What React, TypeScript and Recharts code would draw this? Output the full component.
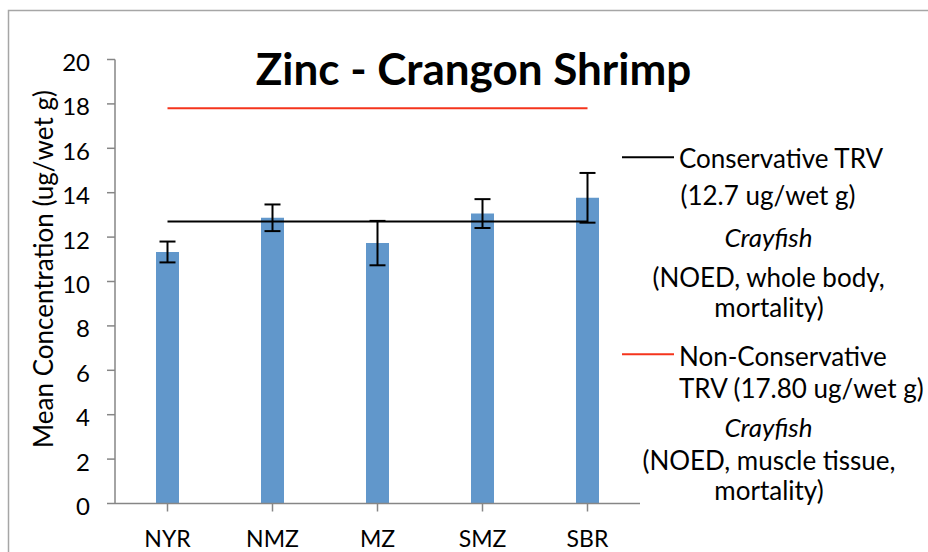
import { Bar, ComposedChart, ErrorBar, Line, XAxis, YAxis } from 'recharts'

const sites = ['NYR', 'NMZ', 'MZ', 'SMZ', 'SBR']
const meanZinc = [11.33, 12.87, 11.73, 13.06, 13.77]
const zincError = [0.47, 0.6, 1.0, 0.65, 1.12]
const conservativeTrv = [12.7, 12.7, 12.7, 12.7, 12.7]
const nonConservativeTrv = [17.8, 17.8, 17.8, 17.8, 17.8]
const yTicks = [0, 2, 4, 6, 8, 10, 12, 14, 16, 18, 20]

const conservativeText = ['Conservative TRV', '(12.7 ug/wet g)', 'Crayfish', '(NOED, whole body,', 'mortality)']
const nonConservativeText = ['Non-Conservative', 'TRV (17.80 ug/wet g)', 'Crayfish', '(NOED, muscle tissue,', 'mortality)']

const data = sites.map((site, i) => ({
  site,
  mean: meanZinc[i],
  err: zincError[i],
  cons: conservativeTrv[i],
  nonCons: nonConservativeTrv[i],
}))

const FONT = 'Lato, "Open Sans", sans-serif'
const AXIS = '#868686'

export default function App() {
  return (
    <div style={{ position: 'relative', width: 928, height: 552, fontFamily: FONT }}>
      <style>{'body{margin:0}'}</style>
      <svg width={928} height={552} style={{ position: 'absolute', left: 0, top: 0 }}>
        <rect x={8.5} y={10.5} width={1000} height={1000} fill="#fff" stroke="#a6a6a6" strokeWidth={1.5} />
      </svg>
      <ComposedChart
        width={928}
        height={552}
        data={data}
        margin={{ top: 59.5, right: 288, bottom: 8.5, left: 55 }}
      >
        <XAxis
          dataKey="site"
          height={40}
          tickSize={8}
          tickMargin={19}
          axisLine={{ stroke: AXIS, strokeWidth: 1.5 }}
          tickLine={{ stroke: AXIS, strokeWidth: 1.5 }}
          tick={{ fill: '#000', fontSize: 23, fontFamily: FONT }}
        />
        <YAxis
          domain={[0, 20]}
          ticks={yTicks}
          interval={0}
          width={60}
          tickSize={8}
          tickMargin={17}
          axisLine={{ stroke: AXIS, strokeWidth: 1.5 }}
          tickLine={{ stroke: AXIS, strokeWidth: 1.5 }}
          tick={{ fill: '#000', fontSize: 24, fontFamily: FONT, dy: 3 }}
        />
        <Bar dataKey="mean" fill="#6197cb" barSize={23} legendType="none" isAnimationActive={false}>
          <ErrorBar dataKey="err" width={8} stroke="#000" strokeWidth={2} direction="y" />
        </Bar>
        <Line dataKey="cons" stroke="#000" strokeWidth={2} dot={false} activeDot={false} isAnimationActive={false} />
        <Line dataKey="nonCons" stroke="#f5341c" strokeWidth={2} dot={false} activeDot={false} isAnimationActive={false} />
      </ComposedChart>
      <svg width={928} height={552} style={{ position: 'absolute', left: 0, top: 0, pointerEvents: 'none' }}>
        <text x={473.5} y={85} textAnchor="middle" fontSize={44} fontWeight="bold" fontFamily={FONT}>
          Zinc - Crangon Shrimp
        </text>
        <text x={53} y={269} transform="rotate(-90 53 269)" textAnchor="middle" fontSize={26} fontFamily={FONT}>
          Mean Concentration (ug/wet g)
        </text>
        <g fontSize={26} fontFamily={FONT} fill="#000">
          <line x1={622} x2={674} y1={157.3} y2={157.3} stroke="#000" strokeWidth={2} />
          <text x={679} y={168}>{conservativeText[0]}</text>
          <text x={768} y={205} textAnchor="middle">{conservativeText[1]}</text>
          <text x={768.5} y={246.7} textAnchor="middle" fontStyle="italic">{conservativeText[2]}</text>
          <text x={768.5} y={287.3} textAnchor="middle">{conservativeText[3]}</text>
          <text x={769} y={316.7} textAnchor="middle">{conservativeText[4]}</text>
          <line x1={622} x2={674} y1={354.3} y2={354.3} stroke="#f5341c" strokeWidth={2} />
          <text x={679} y={366}>{nonConservativeText[0]}</text>
          <text x={679} y={397.7}>{nonConservativeText[1]}</text>
          <text x={768.5} y={436.7} textAnchor="middle" fontStyle="italic">{nonConservativeText[2]}</text>
          <text x={769} y={470} textAnchor="middle">{nonConservativeText[3]}</text>
          <text x={769} y={500} textAnchor="middle">{nonConservativeText[4]}</text>
        </g>
      </svg>
    </div>
  )
}
